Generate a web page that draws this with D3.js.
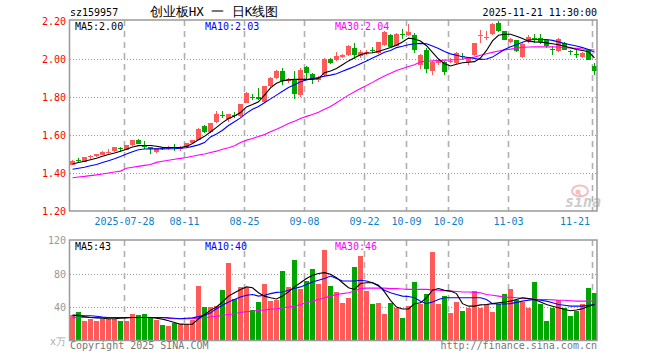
<!DOCTYPE html>
<html><head><meta charset="utf-8">
<script src="https://cdn.jsdelivr.net/npm/d3@7/dist/d3.min.js"></script>
<style>
body{margin:0;background:#fff}
svg{display:block}
text{font-family:"DejaVu Sans Mono","Liberation Mono",monospace}
</style></head>
<body><svg id="c" width="660" height="360"></svg>
<script>
// ---------- data ----------
const dates = [
"2025-07-15","2025-07-16","2025-07-17","2025-07-18","2025-07-21","2025-07-22","2025-07-23","2025-07-24","2025-07-25","2025-07-28","2025-07-29","2025-07-30","2025-07-31",
"2025-08-01","2025-08-04","2025-08-05","2025-08-06","2025-08-07","2025-08-08","2025-08-11","2025-08-12","2025-08-13","2025-08-14","2025-08-15","2025-08-18","2025-08-19","2025-08-20","2025-08-21","2025-08-22","2025-08-25","2025-08-26","2025-08-27","2025-08-28","2025-08-29",
"2025-09-01","2025-09-02","2025-09-03","2025-09-04","2025-09-05","2025-09-08","2025-09-09","2025-09-10","2025-09-11","2025-09-12","2025-09-15","2025-09-16","2025-09-17","2025-09-18","2025-09-19","2025-09-22","2025-09-23","2025-09-24","2025-09-25","2025-09-26","2025-09-29","2025-09-30",
"2025-10-09","2025-10-10","2025-10-13","2025-10-14","2025-10-15","2025-10-16","2025-10-17","2025-10-20","2025-10-21","2025-10-22","2025-10-23","2025-10-24","2025-10-27","2025-10-28","2025-10-29","2025-10-30","2025-10-31",
"2025-11-03","2025-11-04","2025-11-05","2025-11-06","2025-11-07","2025-11-10","2025-11-11","2025-11-12","2025-11-13","2025-11-14","2025-11-17","2025-11-18","2025-11-19","2025-11-20","2025-11-21"];

const open = [1.442,1.471,1.458,1.483,1.488,1.497,1.504,1.514,1.534,1.521,1.546,1.574,1.546,1.536,1.511,1.532,1.525,1.538,1.525,1.536,1.557,1.576,1.646,1.615,1.667,1.706,1.685,1.706,1.699,1.768,1.802,1.800,1.773,1.857,1.900,1.936,1.884,1.889,1.810,1.957,1.920,1.889,1.915,2.000,1.996,2.009,2.021,2.058,2.015,2.030,2.050,2.030,2.073,2.126,2.070,2.133,2.126,2.126,1.968,2.047,1.938,1.977,1.985,1.985,1.977,2.018,1.985,2.021,2.121,2.113,2.131,2.189,2.146,2.089,2.098,2.010,2.088,2.110,2.112,2.101,2.051,2.040,2.084,2.042,2.028,2.009,2.049,1.961];
const high = [1.467,1.478,1.485,1.497,1.500,1.518,1.527,1.538,1.536,1.548,1.576,1.577,1.567,1.538,1.531,1.536,1.541,1.550,1.541,1.559,1.576,1.637,1.652,1.665,1.725,1.725,1.712,1.720,1.765,1.826,1.815,1.847,1.860,1.905,1.940,1.952,1.900,1.936,1.952,1.963,1.925,1.910,2.003,2.003,2.035,2.025,2.072,2.084,2.047,2.045,2.065,2.092,2.148,2.130,2.135,2.156,2.184,2.137,2.025,2.056,1.990,2.000,1.990,2.003,2.035,2.033,2.012,2.086,2.154,2.146,2.187,2.200,2.150,2.112,2.102,2.082,2.128,2.131,2.130,2.104,2.067,2.110,2.088,2.049,2.049,2.035,2.052,1.979];
const low = [1.440,1.455,1.456,1.472,1.486,1.495,1.499,1.512,1.509,1.519,1.544,1.551,1.525,1.500,1.504,1.520,1.523,1.518,1.518,1.534,1.555,1.574,1.612,1.612,1.664,1.688,1.667,1.688,1.697,1.766,1.783,1.783,1.770,1.853,1.897,1.862,1.875,1.789,1.800,1.894,1.868,1.878,1.910,1.975,1.990,2.005,2.018,2.000,2.005,2.020,2.030,2.025,2.070,2.060,2.066,2.103,2.120,2.031,1.950,1.924,1.915,1.970,1.915,1.977,1.975,1.994,1.968,2.018,2.084,2.101,2.128,2.140,2.098,2.085,2.036,2.005,2.085,2.084,2.079,2.060,2.022,2.036,2.045,2.022,2.005,2.005,1.994,1.914];
const close = [1.463,1.467,1.483,1.488,1.499,1.511,1.511,1.536,1.531,1.546,1.574,1.553,1.536,1.525,1.529,1.529,1.539,1.535,1.539,1.557,1.574,1.632,1.615,1.662,1.710,1.702,1.710,1.702,1.762,1.820,1.798,1.790,1.857,1.900,1.936,1.884,1.894,1.815,1.942,1.926,1.894,1.898,2.000,1.978,2.017,2.021,2.068,2.022,2.036,2.036,2.045,2.088,2.144,2.064,2.130,2.128,2.144,2.047,2.021,1.950,1.985,1.994,1.933,1.990,2.030,2.014,2.008,2.082,2.127,2.118,2.184,2.146,2.101,2.107,2.040,2.079,2.114,2.106,2.089,2.067,2.047,2.107,2.049,2.038,2.024,2.031,1.996,1.935];

const volume = [30,34,23.4,25.5,23.4,26,25.5,26,23,23,31.5,30,32,28,24.6,18,17.8,21.4,19.4,19.4,24.6,64.6,40,40,41,60,92.5,50,64,63,37,46.5,68,47,48,83,64,96,62,71,85,68,108,65.5,
58.4,45.2,51.2,87.2,101,59,44,45,32,45,39,27,41.6,70,44,56,106,44,53,33,46,35.6,39,59,39,44,34,44,56,62,48,46,39,70,44,23.6,39,48,39,29.6,35.6,44,63,57];

const ma5 = [1.447,1.455,1.462,1.470,1.478,1.488,1.497,1.505,1.515,1.525,1.537,1.544,1.545,1.545,1.541,1.535,1.534,1.534,1.534,1.540,1.555,1.575,1.593,1.616,1.640,1.665,1.687,1.700,1.718,1.748,1.760,1.775,1.810,1.848,1.872,1.885,1.890,1.893,1.893,1.893,1.893,1.897,1.928,1.937,1.950,1.970,1.990,2.006,2.022,2.031,2.033,2.040,2.050,2.060,2.073,2.090,2.110,2.105,2.095,2.070,2.035,2.000,1.975,1.963,1.972,1.980,1.983,1.986,2.005,2.045,2.095,2.125,2.130,2.130,2.120,2.108,2.094,2.090,2.088,2.085,2.080,2.075,2.067,2.059,2.050,2.045,2.038,2.006];
const ma10 = [1.420,1.425,1.430,1.438,1.445,1.455,1.465,1.475,1.487,1.500,1.512,1.522,1.526,1.527,1.527,1.527,1.528,1.528,1.530,1.533,1.540,1.548,1.560,1.590,1.605,1.625,1.650,1.670,1.690,1.715,1.735,1.750,1.770,1.790,1.810,1.830,1.850,1.865,1.880,1.890,1.897,1.902,1.910,1.915,1.922,1.935,1.948,1.960,1.975,1.990,2.005,2.020,2.035,2.045,2.060,2.067,2.075,2.080,2.082,2.080,2.068,2.055,2.040,2.027,2.020,2.012,2.008,2.003,1.998,2.000,2.010,2.030,2.050,2.064,2.075,2.088,2.100,2.103,2.103,2.103,2.098,2.090,2.082,2.075,2.068,2.060,2.050,2.035];
const ma30 = [1.375,1.379,1.382,1.386,1.390,1.395,1.400,1.405,1.410,1.425,1.430,1.435,1.440,1.445,1.456,1.462,1.467,1.472,1.477,1.482,1.488,1.495,1.500,1.508,1.515,1.525,1.533,1.543,1.560,1.573,1.582,1.592,1.602,1.617,1.630,1.645,1.660,1.672,1.687,1.698,1.708,1.720,1.735,1.750,1.770,1.790,1.810,1.828,1.845,1.860,1.877,1.895,1.910,1.925,1.940,1.950,1.960,1.970,1.985,1.988,1.990,1.992,1.994,1.995,1.997,2.000,2.005,2.010,2.020,2.028,2.035,2.042,2.048,2.052,2.057,2.061,2.063,2.064,2.064,2.064,2.064,2.063,2.060,2.058,2.056,2.053,2.050,2.047];

const volMa5 = [30.5,30,28.5,27.5,27,26.5,26,26,26.5,27,27.5,27.5,27.5,27.5,26.5,25.5,23.5,21.5,19.5,19.4,19.4,26,31,36,40,46,53,57,61,64,63,57,53,51,49.5,53,58,64,69,74,78,80,81,79,75,69,63,61,68,69,69,66,58,48,40,37.6,37.6,44,45,51,60,62,60,59,56,44,41,41,42.5,43,44,45,46,47,49,51,50,49,46,43,41,39,37,35.6,36.5,38,41,43];
const volMa10 = [29.5,29.5,29.5,29.5,29,28,27.5,27.5,27.5,27.5,27.5,27.5,27.5,27.5,27.5,27.5,27,26.5,26,26.5,27,28.5,30,33,38,42,46,49,52,54,55,53,54,56,57.5,58,60,62,64,67,70,72,74,77,74,71,71,71,72,71,69,65,60,57,55,53,52.5,51,47,44,46,49,51,51,51,51,51,51,51,49,44,43.5,43.6,44,45.5,47,48,49,48,47,45,43,42,41,41,41,42,43];
const volMa30 = [27,27.5,27.5,27.5,27.5,27.5,27.5,27.5,27.5,27.5,27.5,27.5,27.5,27.5,27.5,27.5,26.5,26,26,26,26,26.5,27.5,28,29,30,31,32,33.5,34.5,35,36,36.5,37.5,38,39,40,41,43,45,47,49,51,53,55,56,57,59,62,62.5,62.5,62.5,62.5,62,62,61.5,61,61,61,61,60.5,60,59.5,59,58.5,58,58,57.5,57,55,54,53,52,51.5,51,50.5,50,49.5,49,49,48.5,48,48,47.5,47,47,47,47];

const priceTicks = [1.20,1.40,1.60,1.80,2.00,2.20];
const volTicks = [40,80,120];
const dateTicks = ["2025-07-28","2025-08-11","2025-08-25","2025-09-08","2025-09-22","2025-10-09","2025-10-20","2025-11-03","2025-11-21"];
const dateTickLabels = ["2025-07-28","08-11","08-25","09-08","09-22","10-09","10-20","11-03","11-21"];
const maLabels = ["MA5:2.00","MA10:2.03","MA30:2.04"];
const volMaLabels = ["MA5:43","MA10:40","MA30:46"];

// ---------- drawing ----------
const svg = d3.select("#c");
const RED = "#ff5a5a", GREEN = "#00a600";
const L = 70, R = 597;
const pTop = 20, pBot = 211, vTop = 240, vBot = 340.5;

const x = d3.scaleBand().domain(dates).range([L, R]).paddingInner(1/6).paddingOuter(0);
const bw = x.bandwidth();
const yP = d3.scaleLinear().domain([1.20, 2.20]).range([211, 21]);
const yV = d3.scaleLinear().domain([0, 120]).range([vBot, vTop]);

const data = dates.map((d,i)=>({d, o:open[i], h:high[i], l:low[i], c:close[i], v:volume[i]}));
const up = d => d.c >= d.o;

function grid(g, top, bot, hTicks, yScale) {
  g.selectAll(".hg").data(hTicks).join("line")
    .attr("x1", L).attr("x2", R)
    .attr("y1", d => Math.round(yScale(d)) + 0.5).attr("y2", d => Math.round(yScale(d)) + 0.5)
    .attr("stroke", "#999").attr("stroke-dasharray", "1,2").attr("stroke-width", 1);
  g.selectAll(".vg").data(dateTicks).join("line")
    .attr("x1", d => Math.round(x(d)) + 0.5).attr("x2", d => Math.round(x(d)) + 0.5)
    .attr("y1", top).attr("y2", bot)
    .attr("stroke", "#b0b0b0").attr("stroke-dasharray", "6,5").attr("stroke-width", 1.6);
}

// price panel
const gp = svg.append("g");
grid(gp, pTop, pBot, [1.40,1.60,1.80,2.00], yP);

// sina logo watermark
const logo = svg.append("g").attr("opacity", 0.5);
logo.append("ellipse").attr("cx", 580).attr("cy", 191).attr("rx", 8).attr("ry", 5.5)
  .attr("fill", "none").attr("stroke", "#ef7f7f").attr("stroke-width", 2);
logo.append("circle").attr("cx", 578).attr("cy", 192).attr("r", 2.5).attr("fill", "#ef7f7f");
logo.append("text").attr("x", 565).attr("y", 207).text("sina")
  .attr("font-family", "DejaVu Sans, sans-serif").attr("font-style", "italic").attr("font-weight", "bold")
  .attr("font-size", 15).attr("fill", "#9a9a9a");

// candles
const cg = gp.append("g").attr("shape-rendering", "crispEdges");
cg.selectAll("line.w").data(data).join("line")
  .attr("x1", d => x(d.d) + Math.floor(bw/2) + 0.5).attr("x2", d => x(d.d) + Math.floor(bw/2) + 0.5)
  .attr("y1", d => Math.round(yP(d.h))).attr("y2", d => Math.round(yP(d.l)))
  .attr("stroke", d => up(d) ? RED : GREEN).attr("stroke-width", 1);
cg.selectAll("rect").data(data).join("rect")
  .attr("x", d => x(d.d)).attr("width", bw)
  .attr("y", d => Math.round(yP(Math.max(d.o, d.c))))
  .attr("height", d => Math.max(1, Math.round(yP(Math.min(d.o, d.c))) - Math.round(yP(Math.max(d.o, d.c)))))
  .attr("fill", d => up(d) ? RED : GREEN);

const cx = (i) => x(dates[i]) + bw/2;
function maLine(g, arr, yScale, color) {
  g.append("path").datum(arr)
    .attr("d", d3.line().x((d,i)=>cx(i)).y(d=>yScale(d)))
    .attr("fill", "none").attr("stroke", color).attr("stroke-width", 1.1);
}
maLine(gp, ma30, yP, "#ff00ff");
maLine(gp, ma10, yP, "#0000ff");
maLine(gp, ma5, yP, "#000000");

// frame
svg.append("path").attr("d", `M${L-0.5},${pTop}V${pBot}H${R}V${pTop}Z`)
  .attr("fill", "none").attr("stroke", "#999").attr("stroke-width", 1.5);

// price axis labels
svg.selectAll("text.py").data(priceTicks).join("text")
  .attr("x", 66).attr("y", d => yP(d) + 4).attr("text-anchor", "end")
  .attr("font-size", 10).attr("fill", "#ff0000").text(d => d.toFixed(2));

// date labels (last one kept inside the frame)
const lastTick = dateTicks.length - 1;
svg.selectAll("text.dx").data(dateTicks).join("text")
  .attr("x", (d,i) => i === lastTick ? 590 : x(d) + 0.5).attr("y", 225)
  .attr("text-anchor", (d,i) => i === lastTick ? "end" : "middle")
  .attr("font-size", 10).attr("fill", "#0a7fcc").text((d,i) => dateTickLabels[i]);

// MA labels (price)
const maColors = ["#000000", "#0000ff", "#ff00ff"];
const maX = [75, 205, 335];
svg.selectAll("text.ml").data(maLabels).join("text")
  .attr("x", (d,i)=>maX[i]).attr("y", 30).attr("font-size", 10)
  .attr("fill", (d,i)=>maColors[i]).text(d=>d);

// header
svg.append("text").attr("x", 70).attr("y", 16).attr("font-size", 10).attr("fill", "#000").text("sz159957");
svg.append("text").attr("x", 214).attr("y", 16).attr("text-anchor", "middle").attr("font-size", 12.5)
  .attr("font-family", "'Liberation Mono','Noto Sans CJK SC',monospace").attr("fill", "#000").text("创业板HX 一 日K线图");
svg.append("text").attr("x", 597).attr("y", 16).attr("text-anchor", "end").attr("font-size", 10).attr("fill", "#000").text("2025-11-21 11:30:00");

// volume panel
const gv = svg.append("g");
grid(gv, vTop, vBot, [40, 80], yV);
gv.append("g").attr("shape-rendering", "crispEdges").selectAll("rect").data(data).join("rect")
  .attr("x", d => x(d.d)).attr("width", bw)
  .attr("y", d => Math.round(yV(d.v))).attr("height", d => Math.round(yV(0)) - Math.round(yV(d.v)))
  .attr("fill", d => up(d) ? RED : GREEN);
maLine(gv, volMa30, yV, "#ff00ff");
maLine(gv, volMa10, yV, "#0000ff");
maLine(gv, volMa5, yV, "#000000");

svg.append("path").attr("d", `M${L-0.5},${vTop}V${vBot}H${R}V${vTop}Z`)
  .attr("fill", "none").attr("stroke", "#999").attr("stroke-width", 1.5);

svg.selectAll("text.vy").data(volTicks).join("text")
  .attr("x", 66).attr("y", d => yV(d) + 4).attr("text-anchor", "end")
  .attr("font-size", 10).attr("fill", "#999").text(d => d);
svg.append("text").attr("x", 66).attr("y", 345).attr("text-anchor", "end")
  .attr("font-size", 10).attr("fill", "#aaa").attr("font-family", "'Noto Sans CJK SC',sans-serif").text("x万");

svg.selectAll("text.vl").data(volMaLabels).join("text")
  .attr("x", (d,i)=>maX[i]).attr("y", 250).attr("font-size", 10)
  .attr("fill", (d,i)=>maColors[i]).text(d=>d);

// footer
svg.append("text").attr("x", 70).attr("y", 349).attr("font-size", 10).attr("fill", "#777").text("Copyright 2025 SINA.COM");
svg.append("text").attr("x", 597).attr("y", 349).attr("text-anchor", "end").attr("font-size", 10).attr("fill", "#777").text("http://finance.sina.com.cn");
</script>
</body></html>
